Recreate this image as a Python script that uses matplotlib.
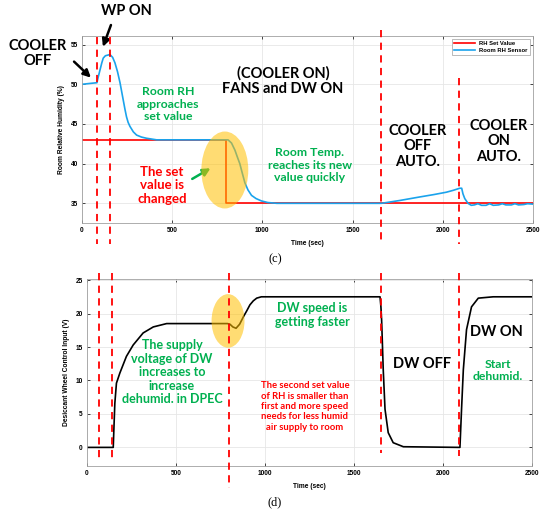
import matplotlib as mp
mp.use("Agg")
import matplotlib.pyplot as plt
from matplotlib.patches import Ellipse

mp.rcParams['font.family'] = ['Liberation Sans', 'DejaVu Sans']
mp.rcParams['font.weight'] = 'bold'

# ---- panel (c): room RH ----
set_t = [0, 800, 800, 2500]
set_rh = [43, 43, 35, 35]

rh_t = [0, 40, 83, 90, 100, 110, 118, 130, 155, 170, 183, 197, 211, 220, 229, 238,
        247, 256, 266, 285, 303, 330, 358, 414, 500, 700, 810, 829, 848, 862, 875,
        890, 903, 920, 940, 965, 995, 1030, 1080, 1660, 1760, 1872, 1950, 2020,
        2060, 2094, 2105, 2112, 2122, 2140, 2158, 2175, 2195, 2215, 2240, 2260,
        2280, 2310, 2330, 2350, 2380, 2400, 2420, 2450, 2470, 2500]
rh_v = [50.0, 50.1, 50.2, 50.9, 51.8, 52.7, 53.3, 53.6, 53.75, 53.4, 52.7, 51.6,
        50.2, 49.1, 48.0, 46.9, 45.9, 45.2, 44.7, 44.0, 43.6, 43.35, 43.2, 43.0,
        43.0, 43.0, 43.0, 42.6, 41.7, 40.8, 40.0, 38.7, 37.6, 36.7, 36.0, 35.6,
        35.3, 35.1, 35.0, 35.0, 35.35, 35.8, 36.1, 36.4, 36.65, 36.9, 36.9, 36.2,
        35.6, 35.0, 34.75, 34.8, 34.95, 34.75, 34.75, 34.95, 34.75, 34.8, 34.95,
        34.8, 34.8, 34.95, 34.8, 34.85, 34.95, 34.9]
events_c = [83, 155, 1660, 2090]

# ---- panel (d): desiccant wheel input ----
dw_t = [0, 148, 152, 157, 166, 185, 222, 260, 316, 373, 448, 600, 790, 804, 820,
        838, 858, 879, 898, 916, 935, 954, 980, 1010, 1050, 1100, 1647, 1652,
        1656, 1665, 1675, 1693, 1721, 1778, 2096, 2105, 2115, 2133, 2161, 2199,
        2283, 2500]
dw_v = [0, 0, 3.0, 6.6, 9.6, 11.1, 13.6, 15.3, 17.1, 18.0, 18.5, 18.5, 18.5,
        18.4, 18.0, 17.8, 18.4, 19.5, 20.4, 21.3, 21.9, 22.3, 22.5, 22.5, 22.5,
        22.5, 22.5, 21.0, 19.0, 11.6, 5.7, 2.2, 0.7, 0.1, 0, 5.7, 11.6, 17.6,
        21.0, 22.3, 22.5, 22.5]
events_d = [67, 140, 800, 1650, 2090]

BLUE = '#1AA3EC'
RED = '#FF0000'
GREEN = '#00B050'
GOLD = '#FFC000'
ANN = ['Lato', 'DejaVu Sans']

fig = plt.figure(figsize=(5.5, 5.13), dpi=100)
ax1 = fig.add_axes([0.149, 0.565, 0.820, 0.365])
ax2 = fig.add_axes([0.158, 0.092, 0.809, 0.364])


def style_axis(ax, yticks, ylim, ylabel):
    ax.set_xlim(0, 2500)
    ax.set_ylim(*ylim)
    ax.set_xticks([0, 500, 1000, 1500, 2000, 2500])
    ax.set_yticks(yticks)
    ax.tick_params(direction='in', length=2, width=0.5, labelsize=4.7,
                   top=True, right=True, pad=3)
    for lab in ax.get_xticklabels() + ax.get_yticklabels():
        lab.set_fontweight('bold')
    ax.grid(True, color='#e6e6e6', linewidth=0.6)
    ax.set_axisbelow(True)
    for s in ax.spines.values():
        s.set_color('#a0a0a0')
        s.set_linewidth(0.6)
    ax.set_xlabel('Time (sec)', fontsize=4.8, fontweight='bold', labelpad=4)
    ax.set_ylabel(ylabel, fontsize=4.8, fontweight='bold', labelpad=4)


# panel (c)
ax1.plot(set_t, set_rh, color=RED, lw=1.2, label='RH Set Value')
ax1.plot(rh_t, rh_v, color=BLUE, lw=1.2, label='Room RH Sensor')
style_axis(ax1, [35, 40, 45, 50, 55], (32.5, 56.1), 'Room Relative Humidity (%)')
leg = ax1.legend(loc='upper right', fontsize=4.2, handlelength=3.5, fancybox=False,
                 borderpad=0.4, labelspacing=0.3, framealpha=1)
leg.get_frame().set_edgecolor('#a0a0a0')
leg.get_frame().set_linewidth(0.5)
for t in leg.get_texts():
    t.set_fontweight('bold')

ax1.add_patch(Ellipse((792, 39.2), 260, 9.7, facecolor=GOLD, alpha=0.55,
                      edgecolor='none', zorder=5))

tops_c = [55.9, 55.9, 56.9, 50.8]
for t, y0 in zip(events_c, tops_c):
    ax1.plot([t, t], [y0, 29.9], color=RED, lw=1.3, ls=(0, (4, 3)),
             clip_on=False, zorder=6)

arrow_k = dict(arrowstyle='-|>', lw=1.8, color='black', mutation_scale=11)
ax1.text(-244, 53.9, 'COOLER\nOFF', family=ANN, fontsize=10.5, fontweight='bold',
         ha='center', va='center', linespacing=1.1)
ax1.annotate('', xy=(61, 50.6), xytext=(-55, 53.1), annotation_clip=False,
             arrowprops=arrow_k)
ax1.text(249, 59.2, 'WP ON', family=ANN, fontsize=10.5, fontweight='bold',
         ha='center', va='center')
ax1.annotate('', xy=(111, 54.4), xytext=(166, 57.8), annotation_clip=False,
             arrowprops=arrow_k)
ax1.text(1114, 50.4, '(COOLER ON)\nFANS and DW ON', family=ANN, fontsize=10.5,
         fontweight='bold', ha='center', va='center', linespacing=1.15)
ax1.text(476, 47.5, 'Room RH\napproaches\nset value', family=ANN, fontsize=8.8,
         fontweight='bold', color=GREEN, ha='center', va='center', linespacing=1.15)
ax1.text(443, 37.3, 'The set\nvalue is\nchanged', family=ANN, fontsize=9.5,
         fontweight='bold', color=RED, ha='center', va='center', linespacing=1.15)
ax1.annotate('', xy=(726, 39.6), xytext=(598, 37.9),
             arrowprops=dict(arrowstyle='-|>', lw=1.8, color=GREEN, mutation_scale=11))
ax1.text(1263, 39.8, 'Room Temp.\nreaches its new\nvalue quickly', family=ANN,
         fontsize=8.8, fontweight='bold', color=GREEN, ha='center', va='center',
         linespacing=1.15)
ax1.text(1861, 42.2, 'COOLER\nOFF\nAUTO.', family=ANN, fontsize=10.5,
         fontweight='bold', ha='center', va='center', linespacing=1.15)
ax1.text(2310, 42.8, 'COOLER\nON\nAUTO.', family=ANN, fontsize=10.5,
         fontweight='bold', ha='center', va='center', linespacing=1.15)

# panel (d)
ax2.plot(dw_t, dw_v, color='black', lw=1.2)
style_axis(ax2, [0, 5, 10, 15, 20, 25], (-2.75, 25.15), 'Desiccant Wheel Control Input (V)')
ax2.add_patch(Ellipse((793, 18.9), 185, 8.0, facecolor=GOLD, alpha=0.55,
                      edgecolor='none', zorder=5))
bottoms_d = [-2.2, -2.2, -6.0, -0.9, -1.3]
for t, y1 in zip(events_d, bottoms_d):
    ax2.plot([t, t], [26.0, y1], color=RED, lw=1.3, ls=(0, (4, 3)),
             clip_on=False, zorder=6)

ax2.text(478, 11.2, 'The supply\nvoltage of DW\nincreases to\nincrease\ndehumid. in DPEC',
         family=ANN, fontsize=9, fontweight='bold', color=GREEN, ha='center',
         va='center', linespacing=1.15)
ax2.text(1265, 19.8, 'DW speed is\ngetting faster', family=ANN, fontsize=9,
         fontweight='bold', color=GREEN, ha='center', va='center', linespacing=1.15)
ax2.text(1225, 6.1, 'The second set value\nof RH is smaller than\nfirst and more speed\n'
         'needs for less humid\nair supply to room', family=ANN, fontsize=6.8,
         fontweight='bold', color=RED, ha='center', va='center', linespacing=1.2)
ax2.text(1883, 12.5, 'DW OFF', family=ANN, fontsize=10.5, fontweight='bold',
         ha='center', va='center')
ax2.text(2299, 17.3, 'DW ON', family=ANN, fontsize=10.5, fontweight='bold',
         ha='center', va='center')
ax2.text(2310, 11.5, 'Start\ndehumid.', family=ANN, fontsize=8.8, fontweight='bold',
         color=GREEN, ha='center', va='center', linespacing=1.15)

fig.text(0.5, 1 - 259 / 513, '(c)', family=['Liberation Serif', 'DejaVu Serif'],
         fontsize=9, fontweight='normal', ha='center', va='center')
fig.text(0.5, 1 - 502 / 513, '(d)', family=['Liberation Serif', 'DejaVu Serif'],
         fontsize=9, fontweight='normal', ha='center', va='center')

fig.savefig('out.png', dpi=100)
